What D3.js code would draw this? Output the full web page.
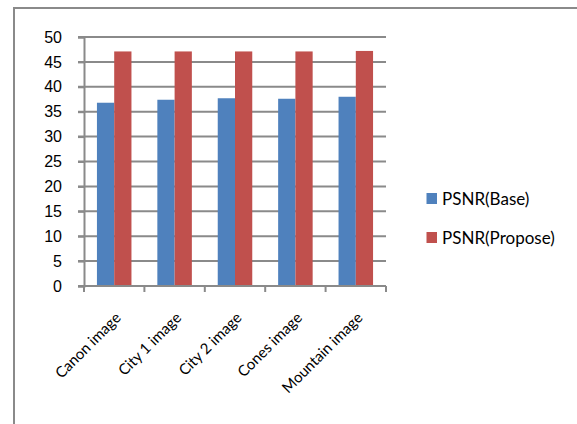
<!DOCTYPE html>
<html>
<head>
<meta charset="utf-8">
<script src="https://cdn.jsdelivr.net/npm/d3@7"></script>
<style>
  html, body { margin: 0; padding: 0; background: #fff; }
  svg { display: block; font-family: Lato, "Open Sans", sans-serif; }
</style>
</head>
<body>
<svg id="chart" width="577" height="424"></svg>
<script>
// PSNR comparison per test image
const categories = ["Canon image", "City 1 image", "City 2 image", "Cones image", "Mountain image"];
const seriesNames = ["PSNR(Base)", "PSNR(Propose)"];
const psnrBase = [36.8, 37.4, 37.7, 37.6, 38.0];
const psnrPropose = [47.1, 47.1, 47.1, 47.1, 47.2];
const yTicks = [0, 5, 10, 15, 20, 25, 30, 35, 40, 45, 50];
const colors = ["#4f81bd", "#c0504d"];
const axisGray = "#8a8a8a";

const svg = d3.select("#chart");

// outer frame
svg.append("rect")
  .attr("x", 14).attr("y", 8)
  .attr("width", 570).attr("height", 430)
  .attr("fill", "none").attr("stroke", axisGray).attr("stroke-width", 2);

const plot = { left: 84, right: 386, top: 37, bottom: 286 };

const x = d3.scaleBand().domain(categories).range([plot.left, plot.right]);
const y = d3.scaleLinear().domain([0, 50]).range([plot.bottom, plot.top]);

// bars occupy 2 of 3.5 units per category (gap width 150%)
const barW = x.bandwidth() / 3.5;
const inner = d3.scaleBand().domain(seriesNames).range([0, barW * 2]);

// gridlines
svg.append("g").selectAll("line").data(yTicks.filter(d => d > 0)).join("line")
  .attr("x1", plot.left - 6).attr("x2", plot.right)
  .attr("y1", d => y(d)).attr("y2", d => y(d))
  .attr("stroke", axisGray).attr("stroke-width", 2);

// y axis
const yAxis = d3.axisLeft(y).tickValues(yTicks).tickSize(6).tickPadding(16);
const gy = svg.append("g").attr("transform", `translate(${plot.left},0)`).call(yAxis);
gy.select(".domain").attr("stroke", axisGray).attr("stroke-width", 2);
gy.selectAll(".tick line").attr("stroke", axisGray).attr("stroke-width", 2);
gy.selectAll("text").attr("font-size", 16).attr("fill", "#000");

// bars
const series = [psnrBase, psnrPropose];
series.forEach((vals, si) => {
  svg.append("g").selectAll("rect").data(vals).join("rect")
    .attr("x", (d, i) => x(categories[i]) + barW * 0.75 + inner(seriesNames[si]))
    .attr("y", d => y(d))
    .attr("width", inner.bandwidth())
    .attr("height", d => y(0) - y(d))
    .attr("fill", colors[si]);
});

// x axis with ticks between categories
svg.append("line")
  .attr("x1", plot.left - 6).attr("x2", plot.right)
  .attr("y1", plot.bottom).attr("y2", plot.bottom)
  .attr("stroke", axisGray).attr("stroke-width", 2);
const bounds = categories.map(c => x(c)).concat([x.range()[1]]);
svg.append("g").selectAll("line").data(bounds).join("line")
  .attr("x1", d => d).attr("x2", d => d)
  .attr("y1", plot.bottom).attr("y2", plot.bottom + 6)
  .attr("stroke", axisGray).attr("stroke-width", 2);

// rotated category labels
svg.append("g").selectAll("text").data(categories).join("text")
  .attr("transform", d => `translate(${x(d) + x.bandwidth() / 2 + 4},${plot.bottom + 29}) rotate(-45)`)
  .attr("text-anchor", "end")
  .attr("dy", "0.35em")
  .attr("font-size", 15)
  .attr("fill", "#000")
  .text(d => d);

// legend
const legend = svg.append("g").attr("transform", "translate(426.5,198.5)");
seriesNames.forEach((name, i) => {
  const g = legend.append("g").attr("transform", `translate(0,${i * 39})`);
  g.append("rect").attr("x", 0).attr("y", -5.5).attr("width", 10.5).attr("height", 11).attr("fill", colors[i]);
  g.append("text").attr("x", 15.5).attr("y", 0).attr("dy", "0.36em")
    .attr("font-size", 17).attr("fill", "#000").text(name);
});
</script>
</body>
</html>
